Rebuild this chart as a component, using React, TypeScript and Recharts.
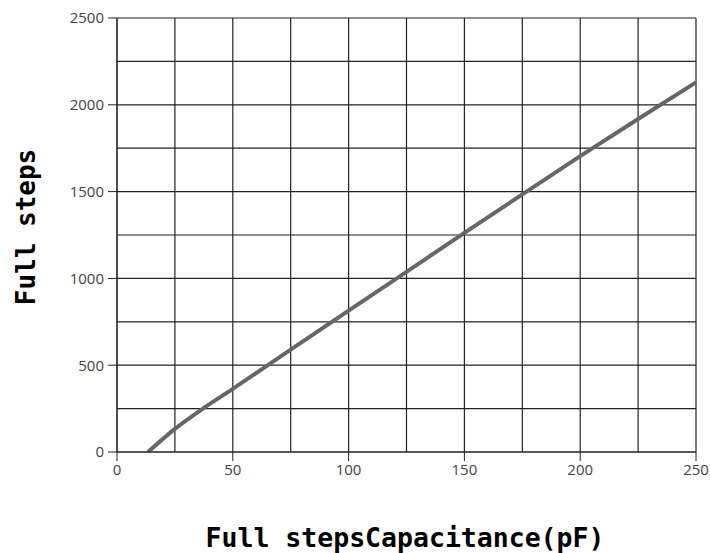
import React from 'react';
import { LineChart, Line, XAxis, YAxis, CartesianGrid } from 'recharts';

const capacitance = [13.4, 25, 37.5, 50, 75, 100, 125, 150, 175, 200, 225, 250];
const steps = [0, 133, 254, 364, 590, 814, 1038, 1262, 1484, 1704, 1918, 2129];
const xTicks = [0, 50, 100, 150, 200, 250];
const yTicks = [0, 500, 1000, 1500, 2000, 2500];
const xGrid = [0, 25, 50, 75, 100, 125, 150, 175, 200, 225, 250];
const yGrid = [0, 250, 500, 750, 1000, 1250, 1500, 1750, 2000, 2250, 2500];

const data = capacitance.map((c, i) => ({ c, s: steps[i] }));

const tickStyle = { fill: '#444', fontSize: 15, fontFamily: '"Open Sans", sans-serif' };
const titleFont = '"DejaVu Sans Mono", monospace';

export default function App() {
  return (
    <div style={{ position: 'absolute', left: 0, top: 0, width: 710, height: 553, background: '#fff' }}>
      <LineChart width={710} height={553} data={data} margin={{ top: 18, right: 14, bottom: 71, left: 0 }}>
        <CartesianGrid stroke="#222" strokeWidth={1.2} horizontalValues={yGrid} verticalValues={xGrid} />
        <XAxis
          dataKey="c"
          type="number"
          domain={[0, 250]}
          ticks={xTicks}
          tickSize={9}
          tickMargin={3}
          stroke="#222"
          tick={tickStyle}
          interval={0}
          height={30}
        />
        <YAxis
          type="number"
          domain={[0, 2500]}
          ticks={yTicks}
          width={117}
          tickSize={9}
          tickMargin={4}
          stroke="#222"
          tick={tickStyle}
          interval={0}
        />
        <Line dataKey="s" type="monotone" stroke="#666" strokeWidth={4} dot={false} isAnimationActive={false} />
      </LineChart>
      <div
        style={{
          position: 'absolute',
          left: 405,
          top: 537,
          transform: 'translate(-50%, -50%)',
          fontFamily: titleFont,
          fontWeight: 'bold',
          fontSize: 26.5,
          whiteSpace: 'nowrap',
          color: '#000',
        }}
      >
        Full stepsCapacitance(pF)
      </div>
      <div
        style={{
          position: 'absolute',
          left: 26,
          top: 227,
          transform: 'translate(-50%, -50%) rotate(-90deg)',
          fontFamily: titleFont,
          fontWeight: 'bold',
          fontSize: 26,
          whiteSpace: 'nowrap',
          color: '#000',
        }}
      >
        Full steps
      </div>
    </div>
  );
}
